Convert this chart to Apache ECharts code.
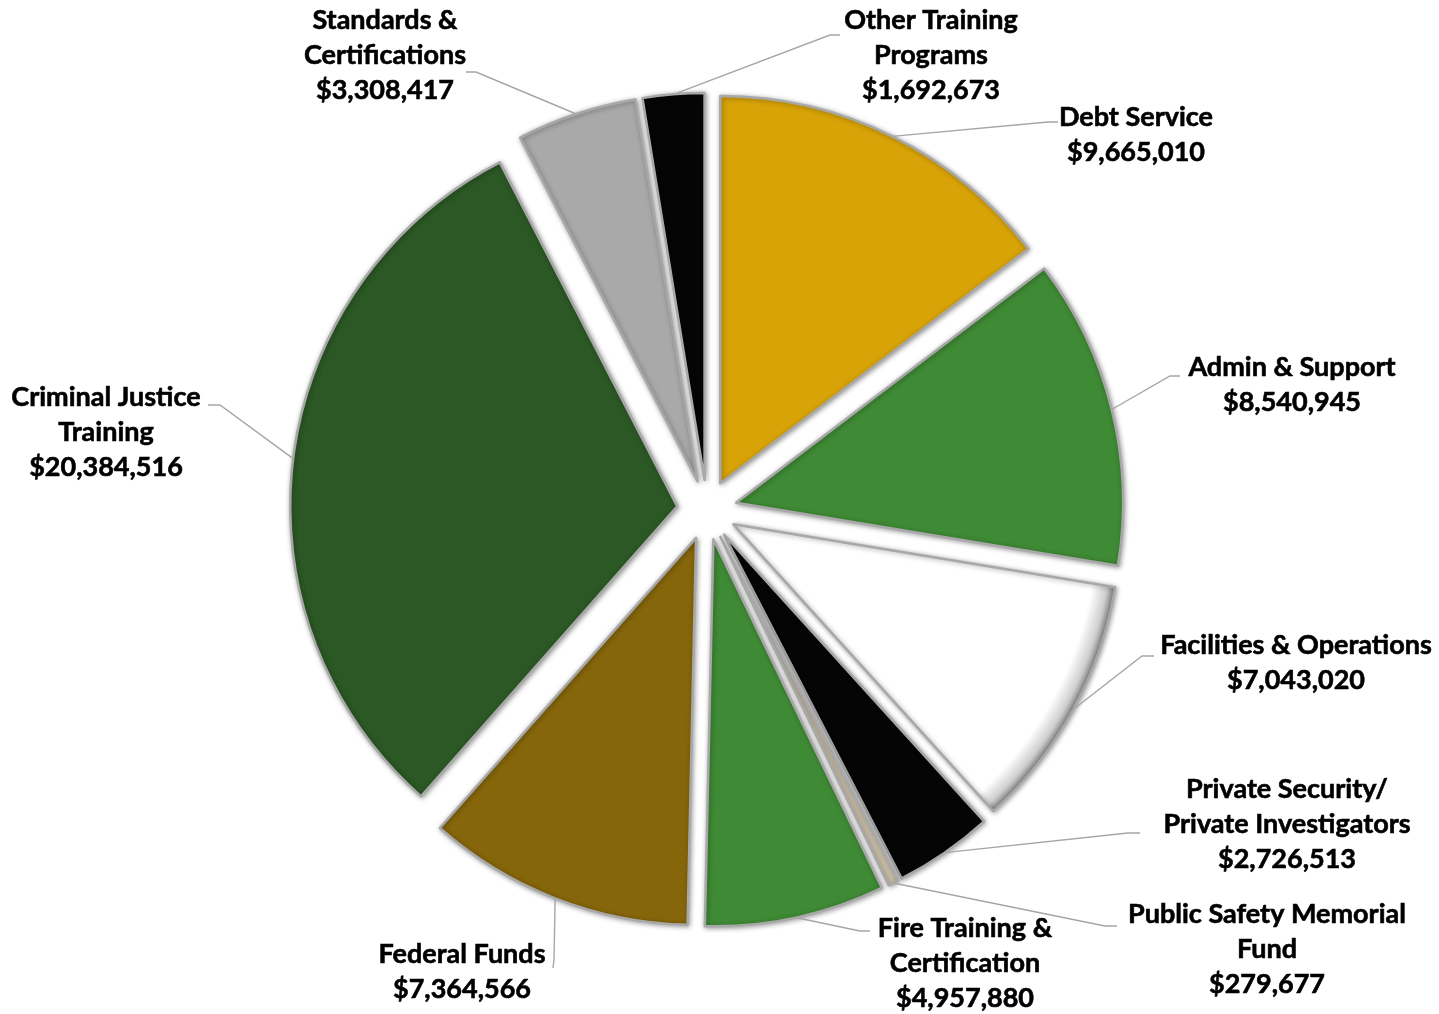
<!DOCTYPE html>
<html>
<head>
<meta charset="utf-8">
<script src="https://cdn.jsdelivr.net/npm/echarts@6/dist/echarts.min.js"></script>
<style>
  html, body { margin: 0; padding: 0; background: #ffffff; }
  #chart { width: 1439px; height: 1014px; }
</style>
</head>
<body>
<div id="chart"></div>
<script>
// Budget allocation by program (clockwise from 12 o'clock)
const categories = [
  'Debt Service',
  'Admin & Support',
  'Facilities & Operations',
  'Private Security/\nPrivate Investigators',
  'Public Safety Memorial\nFund',
  'Fire Training &\nCertification',
  'Federal Funds',
  'Criminal Justice\nTraining',
  'Standards &\nCertifications',
  'Other Training\nPrograms'
];
const amounts = [9665010, 8540945, 7043020, 2726513, 279677, 4957880, 7364566, 20384516, 3308417, 1692673];
const sliceColors = ['#d8a307', '#3f8a35', '#ffffff', '#050505', '#cbbfa9', '#3f8a35', '#86660b', '#2b5824', '#a9a9a9', '#050505'];

// Label block placement: centre x, top y, leader-line elbow and end point
const labelPlacement = [
  { cx: 1136, top: 100, elbow: [1048, 122], end: [1058, 122] },
  { cx: 1292, top: 350, elbow: [1170, 376], end: [1180, 376] },
  { cx: 1296, top: 628, elbow: [1142, 656], end: [1154, 656] },
  { cx: 1287, top: 772, elbow: [1128, 833], end: [1140, 833] },
  { cx: 1267, top: 897, elbow: [1105, 926], end: [1117, 926] },
  { cx: 965,  top: 911, elbow: [860, 931],  end: [870, 931] },
  { cx: 462,  top: 937, elbow: [554, 960],  end: [553, 968] },
  { cx: 106,  top: 380, elbow: [220, 405],  end: [208, 405] },
  { cx: 385,  top: 3,   elbow: [476, 72],   end: [466, 72] },
  { cx: 931,  top: 3,   elbow: [830, 35],   end: [840, 35] }
];

const PIE_CENTER = [707, 510];
const PIE_RADIUS = 387;
const EXPLODE = 30;

const money = v => '$' + v.toLocaleString('en-US');

const sliceStyle = {
  borderColor: '#a8a8a8',
  borderWidth: 2.5,
  shadowColor: 'rgba(0,0,0,0.35)',
  shadowBlur: 5,
  shadowOffsetX: 1,
  shadowOffsetY: 1
};

// Rim shading for the white slice; the sector's own offset transform moves the fill with it
const rimShade = {
  type: 'radial', x: PIE_CENTER[0], y: PIE_CENTER[1], r: PIE_RADIUS, global: true,
  colorStops: [
    { offset: 0, color: '#ffffff' },
    { offset: 0.94, color: '#ffffff' },
    { offset: 0.978, color: '#cfcfcf' },
    { offset: 1, color: '#808080' }
  ]
};

const chart = echarts.init(document.getElementById('chart'), null, { renderer: 'canvas' });

chart.setOption({
  backgroundColor: '#ffffff',
  animation: false,
  series: [
    {
      // exploded slices
      type: 'pie',
      center: PIE_CENTER,
      radius: [0, PIE_RADIUS],
      startAngle: 90,
      clockwise: true,
      selectedMode: 'multiple',
      selectedOffset: EXPLODE,
      silent: true,
      itemStyle: sliceStyle,
      emphasis: { disabled: true, scale: false },
      select: { itemStyle: sliceStyle },
      label: { show: false },
      labelLine: { show: false },
      data: categories.map((name, i) => ({
        name: name,
        value: amounts[i],
        selected: true,
        itemStyle: { color: sliceColors[i] === '#ffffff' ? rimShade : sliceColors[i] }
      }))
    },
    {
      // category labels with leader lines, sized to reach the exploded rim
      type: 'pie',
      center: PIE_CENTER,
      radius: [0, PIE_RADIUS + EXPLODE],
      startAngle: 90,
      clockwise: true,
      silent: true,
      z: 3,
      avoidLabelOverlap: false,
      minShowLabelAngle: 0,
      itemStyle: { color: 'rgba(0,0,0,0)', borderWidth: 0 },
      emphasis: { disabled: true, scale: false },
      label: {
        show: true,
        position: 'outside',
        formatter: p => p.name + '\n' + money(p.value),
        fontFamily: 'Lato',
        fontWeight: 'bold',
        fontSize: 27,
        lineHeight: 35,
        color: '#000000',
        textBorderColor: '#000000',
        textBorderWidth: 0.6,
        align: 'center'
      },
      labelLine: {
        show: true,
        length: 20,
        length2: 20,
        smooth: false,
        lineStyle: { color: '#a6a6a6', width: 1.4 }
      },
      labelLayout: function (params) {
        const spot = labelPlacement[params.dataIndex];
        const pts = params.labelLinePoints;
        const start = pts ? pts[0] : spot.elbow;
        return {
          x: spot.cx,
          y: spot.top,
          align: 'center',
          verticalAlign: 'top',
          labelLinePoints: [start, spot.elbow, spot.end]
        };
      },
      data: categories.map((name, i) => ({ name: name, value: amounts[i] }))
    }
  ]
});
</script>
</body>
</html>
